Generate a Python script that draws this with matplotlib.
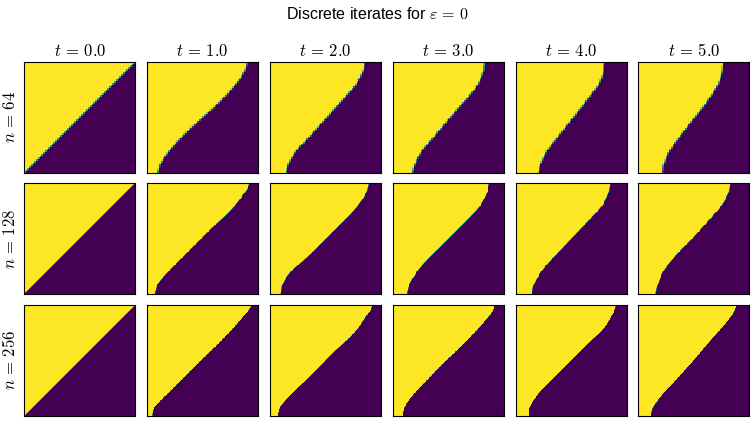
import numpy as np
import matplotlib
matplotlib.use("Agg")
import matplotlib.pyplot as plt
from matplotlib.path import Path

plt.rcParams['mathtext.fontset'] = 'cm'

N_VALUES = [64, 128, 256]
T_VALUES = [0.0, 1.0, 2.0, 3.0, 4.0, 5.0]

# heights (fraction of panel) at which the yellow/purple boundary was read
Y_LEVELS = [0.0, 0.05, 0.1, 0.2, 0.3, 0.4, 0.5, 0.6, 0.7, 0.8, 0.9, 0.95, 1.0]

# boundary x-position (fraction of panel) at each Y_LEVEL, one list per t
BOUNDARY_N64 = [
    [0.0, 0.05, 0.1, 0.2, 0.3, 0.4, 0.5, 0.6, 0.7, 0.8, 0.9, 0.95, 1.0],
    [0.10, 0.11, 0.13, 0.20, 0.29, 0.39, 0.50, 0.61, 0.71, 0.80, 0.87, 0.89, 0.90],
    [0.145, 0.155, 0.175, 0.235, 0.33, 0.42, 0.51, 0.60, 0.69, 0.775, 0.83, 0.845, 0.85],
    [0.175, 0.185, 0.205, 0.26, 0.345, 0.43, 0.515, 0.60, 0.69, 0.765, 0.81, 0.82, 0.825],
    [0.20, 0.21, 0.23, 0.28, 0.355, 0.435, 0.515, 0.595, 0.67, 0.745, 0.785, 0.79, 0.795],
    [0.22, 0.225, 0.24, 0.285, 0.355, 0.43, 0.51, 0.59, 0.66, 0.72, 0.755, 0.763, 0.766],
]
BOUNDARY_N128 = [
    [0.0, 0.05, 0.1, 0.2, 0.3, 0.4, 0.5, 0.6, 0.7, 0.8, 0.9, 0.95, 1.0],
    [0.07, 0.08, 0.105, 0.19, 0.29, 0.39, 0.49, 0.59, 0.70, 0.795, 0.87, 0.905, 0.925],
    [0.10, 0.105, 0.12, 0.185, 0.30, 0.405, 0.505, 0.605, 0.705, 0.795, 0.86, 0.88, 0.89],
    [0.125, 0.135, 0.155, 0.215, 0.30, 0.40, 0.50, 0.60, 0.70, 0.79, 0.84, 0.857, 0.865],
    [0.147, 0.152, 0.17, 0.225, 0.31, 0.405, 0.50, 0.595, 0.69, 0.78, 0.827, 0.84, 0.847],
    [0.16, 0.168, 0.185, 0.225, 0.30, 0.39, 0.49, 0.58, 0.67, 0.755, 0.81, 0.825, 0.83],
]
BOUNDARY_N256 = [
    [0.0, 0.05, 0.1, 0.2, 0.3, 0.4, 0.5, 0.6, 0.7, 0.8, 0.9, 0.95, 1.0],
    [0.048, 0.055, 0.085, 0.185, 0.285, 0.385, 0.485, 0.59, 0.69, 0.785, 0.87, 0.915, 0.94],
    [0.07, 0.08, 0.105, 0.195, 0.30, 0.40, 0.50, 0.60, 0.71, 0.80, 0.865, 0.905, 0.92],
    [0.09, 0.097, 0.115, 0.19, 0.285, 0.38, 0.48, 0.585, 0.685, 0.78, 0.865, 0.90, 0.916],
    [0.114, 0.118, 0.135, 0.20, 0.295, 0.395, 0.495, 0.595, 0.70, 0.80, 0.86, 0.887, 0.90],
    [0.12, 0.125, 0.15, 0.225, 0.32, 0.41, 0.50, 0.585, 0.67, 0.76, 0.84, 0.87, 0.884],
]
BOUNDARIES = [BOUNDARY_N64, BOUNDARY_N128, BOUNDARY_N256]


def boundary_path(xs):
    # smooth closed region left of the read boundary points (Catmull-Rom -> Bezier)
    pts = np.column_stack([xs, Y_LEVELS])
    ext = np.vstack([pts[0], pts, pts[-1]])
    verts = [(0.0, 0.0), tuple(pts[0])]
    codes = [Path.MOVETO, Path.LINETO]
    for k in range(1, len(ext) - 2):
        c1 = ext[k] + (ext[k + 1] - ext[k - 1]) / 6
        c2 = ext[k + 1] - (ext[k + 2] - ext[k]) / 6
        verts += [tuple(c1), tuple(c2), tuple(ext[k + 1])]
        codes += [Path.CURVE4] * 3
    verts += [(0.0, 1.0), (0.0, 0.0)]
    codes += [Path.LINETO, Path.CLOSEPOLY]
    return Path(verts, codes)


def make_field(n, xs):
    # yellow (1) left of the boundary, purple (0) right of it,
    # averaged over sub-samples so edge cells get partial values
    region = boundary_path(xs)
    s = max(2, 512 // n)
    c = (np.arange(n * s) + 0.5) / (n * s)
    gx, gy = np.meshgrid(c, c)
    inside = region.contains_points(np.column_stack([gx.ravel(), gy.ravel()]))
    inside = inside.reshape(n * s, n * s).astype(float)
    return inside.reshape(n, s, n, s).mean(axis=(1, 3))


fig, axes = plt.subplots(3, 6, figsize=(7.55, 4.25), dpi=100)
fig.subplots_adjust(left=0.0322, right=0.9925, bottom=0.0219, top=0.8548,
                    wspace=0.108, hspace=0.096)

for i, n in enumerate(N_VALUES):
    for j, t in enumerate(T_VALUES):
        ax = axes[i, j]
        field = make_field(n, BOUNDARIES[i][j])
        ax.imshow(field, origin='lower', cmap='viridis', vmin=0, vmax=1,
                  interpolation='nearest', extent=(0, 1, 0, 1))
        ax.set_xticks([])
        ax.set_yticks([])
        if i == 0:
            ax.set_title(r'$t\,=\,%.1f$' % t, fontsize=12, pad=4)
        if j == 0:
            ax.set_ylabel(r'$n\,=\,%d$' % n, fontsize=12)

fig.suptitle(r'Discrete iterates for $\varepsilon\,=\,0$', fontsize=11.5, y=0.985,
             family='Liberation Sans')
fig.savefig('out.png', dpi=100)
